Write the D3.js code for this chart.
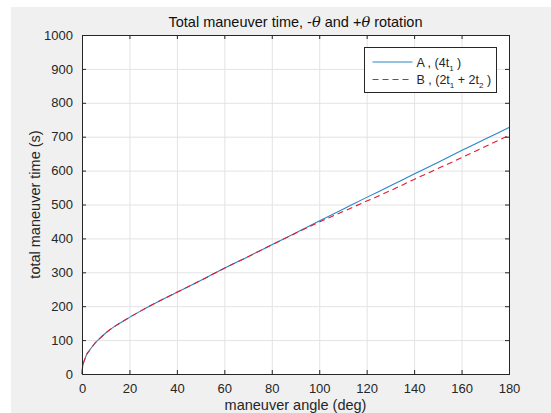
<!DOCTYPE html>
<html>
<head>
<meta charset="utf-8">
<script src="https://cdn.jsdelivr.net/npm/d3@7"></script>
<style>
  html, body { margin: 0; padding: 0; background: #fff; }
  svg { display: block; font-family: "Liberation Sans", Arial, sans-serif; }
</style>
</head>
<body>
<svg id="fig" width="551" height="413"></svg>
<script>
// maneuver angle (deg)
var angles = [0, 0.25, 0.5, 1, 2, 3, 5, 7.5, 10, 15, 20, 25, 30, 40, 50, 60, 70, 80, 90,
  100, 110, 120, 130, 140, 150, 160, 170, 180];
// A , (4t1)
var seriesA = [0, 20, 30, 40, 58, 68, 87, 105, 121, 146, 167, 187, 206, 241, 276, 312, 346, 381, 416,
  451, 486, 521, 555, 590, 624, 659, 693, 727];
// B , (2t1 + 2t2)
var seriesB = [0, 20, 30, 40, 58, 68, 87, 105, 121, 146, 167, 187, 206, 241, 276, 312, 346, 381, 415,
  448, 479, 510, 541, 574, 606, 638, 671, 704];
var xTicks = [0, 20, 40, 60, 80, 100, 120, 140, 160, 180];
var yTicks = [0, 100, 200, 300, 400, 500, 600, 700, 800, 900, 1000];

var
  svg = d3.select('#fig'),
  margin = {top: 35, right: 42, bottom: 39, left: 82},
  width = 551 - margin.left - margin.right,
  height = 413 - margin.top - margin.bottom,
  axisColor = '#262626',
  gridColor = '#e3e3e3'
  ;

// figure background (grey, with the thin white strip top/left)
svg.append('rect').attr('x', 11).attr('y', 7).attr('width', 540).attr('height', 406)
  .attr('fill', '#f0f0f0');

var g = svg.append('g').attr('transform', 'translate(' + margin.left + ',' + margin.top + ')');

var xScale = d3.scaleLinear().domain([0, 180]).range([0, width]);
var yScale = d3.scaleLinear().domain([0, 1000]).range([height, 0]);

g.append('rect').attr('width', width).attr('height', height).attr('fill', '#fff');

// grid
g.append('g').attr('class', 'grid')
  .selectAll('line').data(xTicks.slice(1, -1)).enter().append('line')
  .attr('x1', function(d){ return xScale(d) + 0.5; })
  .attr('x2', function(d){ return xScale(d) + 0.5; })
  .attr('y1', 0).attr('y2', height)
  .attr('stroke', gridColor);
g.append('g').attr('class', 'grid')
  .selectAll('line').data(yTicks.slice(1, -1)).enter().append('line')
  .attr('y1', function(d){ return yScale(d) + 0.5; })
  .attr('y2', function(d){ return yScale(d) + 0.5; })
  .attr('x1', 0).attr('x2', width)
  .attr('stroke', gridColor);

// lines
var line = function(vals){
  return d3.line()
    .x(function(d, i){ return xScale(angles[i]); })
    .y(function(d){ return yScale(d); })
    .curve(d3.curveMonotoneX)(vals);
};

g.append('path').attr('d', line(seriesA))
  .attr('fill', 'none').attr('stroke', '#2a86c4').attr('stroke-width', 1.1);
g.append('path').attr('d', line(seriesB))
  .attr('fill', 'none').attr('stroke', '#e8182f').attr('stroke-width', 1.1)
  .attr('stroke-dasharray', '6,4');

// axes (MATLAB box: ticks inward on all four sides)
function styleAxis(sel){
  sel.select('.domain').remove();
  sel.selectAll('.tick line').attr('stroke', axisColor);
  sel.selectAll('.tick text').attr('fill', axisColor).style('font-size', '13px')
    .style('font-family', '"Liberation Sans", Arial, sans-serif');
}

g.append('g').attr('transform', 'translate(0,' + height + ')')
  .call(d3.axisBottom(xScale).tickValues(xTicks).tickSizeInner(-4).tickSizeOuter(0).tickPadding(10)
    .tickFormat(d3.format('d')))
  .call(styleAxis);
g.append('g')
  .call(d3.axisTop(xScale).tickValues(xTicks).tickSizeInner(-4).tickSizeOuter(0).tickFormat(''))
  .call(styleAxis);
g.append('g')
  .call(d3.axisLeft(yScale).tickValues(yTicks).tickSizeInner(-4).tickSizeOuter(0).tickPadding(9)
    .tickFormat(d3.format('d')))
  .call(styleAxis);
g.append('g').attr('transform', 'translate(' + width + ',0)')
  .call(d3.axisRight(yScale).tickValues(yTicks).tickSizeInner(-4).tickSizeOuter(0).tickFormat(''))
  .call(styleAxis);

g.append('rect').attr('x', 0.5).attr('y', 0.5).attr('width', width).attr('height', height)
  .attr('fill', 'none').attr('stroke', axisColor);

// title
var title = svg.append('text').attr('x', margin.left + width / 2).attr('y', 27)
  .attr('text-anchor', 'middle').attr('fill', '#111').style('font-size', '14.5px');
title.append('tspan').text('Total maneuver time, -');
title.append('tspan').text('θ').style('font-style', 'italic').style('font-family', '"DejaVu Serif", serif');
title.append('tspan').text(' and +');
title.append('tspan').text('θ').style('font-style', 'italic').style('font-family', '"DejaVu Serif", serif');
title.append('tspan').text(' rotation');

// axis labels
svg.append('text').attr('x', margin.left + width / 2).attr('y', 410)
  .attr('text-anchor', 'middle').attr('fill', axisColor).style('font-size', '14.5px')
  .text('maneuver angle (deg)');
svg.append('text')
  .attr('transform', 'translate(40,' + (margin.top + height / 2) + ') rotate(-90)')
  .attr('text-anchor', 'middle').attr('fill', axisColor).style('font-size', '14.5px')
  .text('total maneuver time (s)');

// legend
var legend = svg.append('g').attr('transform', 'translate(364.5,47.5)');
legend.append('rect').attr('width', 132).attr('height', 45)
  .attr('fill', '#fff').attr('stroke', axisColor);

var items = [
  {y: 14.5, color: '#2a86c4', dash: null, parts: [['A , (4t', 0], ['1', 1], [' )', 0]]},
  {y: 32, color: '#e8182f', dash: '6,4', parts: [['B , (2t', 0], ['1', 1], [' + 2t', 0], ['2', 1], [' )', 0]]}
];
items.forEach(function(it){
  legend.append('line').attr('x1', 8).attr('x2', 48).attr('y1', it.y).attr('y2', it.y)
    .attr('stroke', it.color).attr('stroke-width', 1.1)
    .attr('stroke-dasharray', it.dash);
  var t = legend.append('text').attr('x', 52).attr('y', it.y + 4.5)
    .attr('fill', axisColor).style('font-size', '12.5px');
  it.parts.forEach(function(p){
    var s = t.append('tspan').text(p[0]);
    if (p[1]) s.style('font-size', '8px').attr('dy', 4);
    else if (t.selectAll('tspan').size() > 1) s.attr('dy', -4);
  });
});
</script>
</body>
</html>
